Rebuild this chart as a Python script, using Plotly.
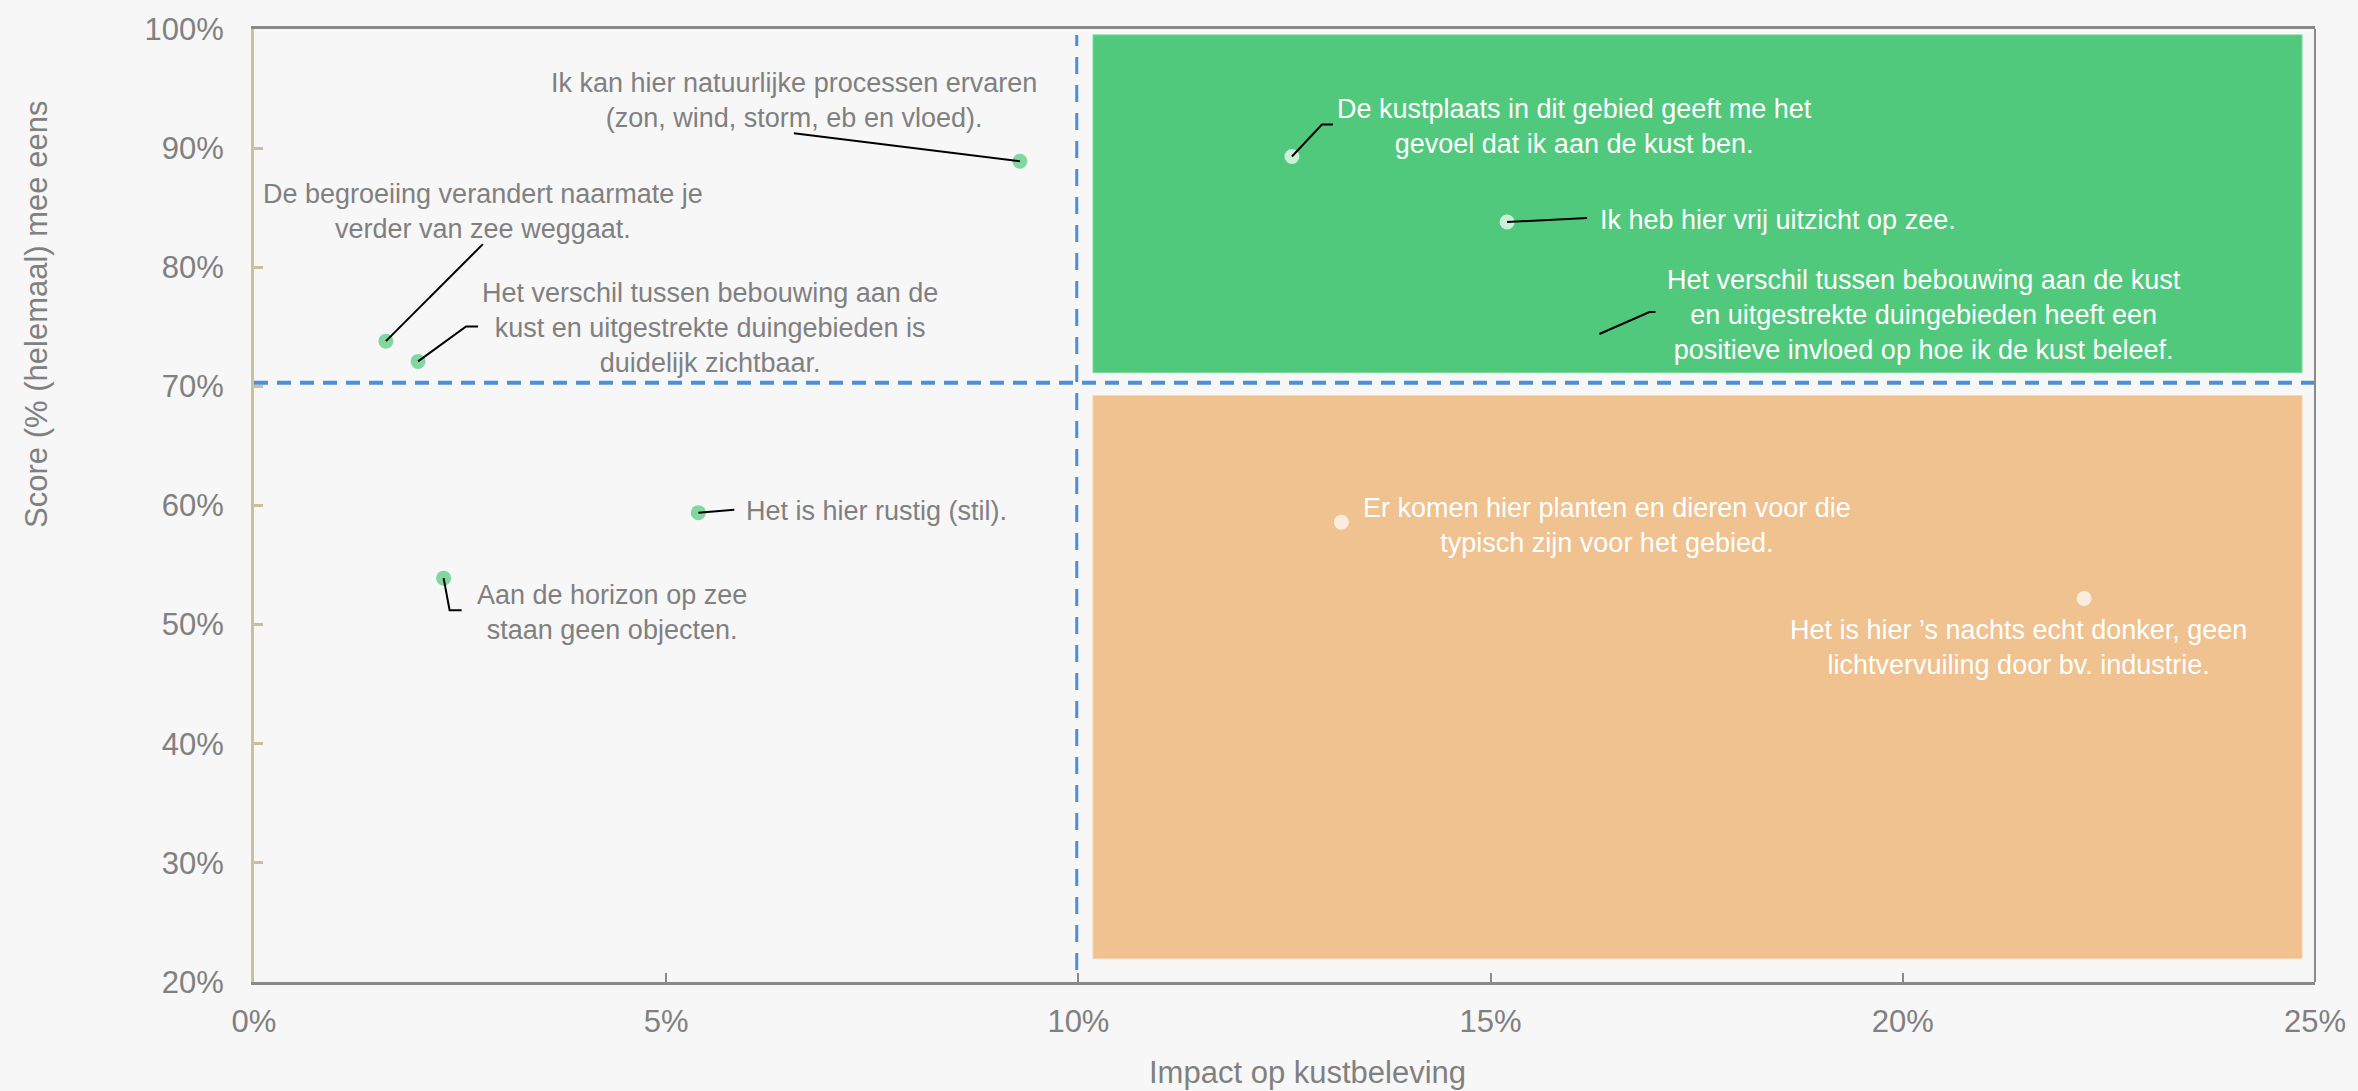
import plotly.graph_objects as go

# ---------------- data ----------------
statements = [
    "Ik kan hier natuurlijke processen ervaren<br>(zon, wind, storm, eb en vloed).",
    "De begroeiing verandert naarmate je<br>verder van zee weggaat.",
    "Het verschil tussen bebouwing aan de<br>kust en uitgestrekte duingebieden is<br>duidelijk zichtbaar.",
    "Het is hier rustig (stil).",
    "Aan de horizon op zee<br>staan geen objecten.",
    "De kustplaats in dit gebied geeft me het<br>gevoel dat ik aan de kust ben.",
    "Ik heb hier vrij uitzicht op zee.",
    "Het verschil tussen bebouwing aan de kust<br>en uitgestrekte duingebieden heeft een<br>positieve invloed op hoe ik de kust beleef.",
    "Er komen hier planten en dieren voor die<br>typisch zijn voor het gebied.",
    "Het is hier \u2019s nachts echt donker, geen<br>lichtvervuiling door bv. industrie.",
]
impact = [9.29, 1.60, 1.99, 5.39, 2.30, 12.59, 15.20, 16.32, 13.19, 22.20]
score = [88.9, 73.8, 72.1, 59.4, 53.9, 89.3, 83.8, 74.4, 58.6, 52.2]

x_ticks = [0, 5, 10, 15, 20, 25]
x_tick_labels = ["0%", "5%", "10%", "15%", "20%", "25%"]
y_ticks = [20, 30, 40, 50, 60, 70, 80, 90, 100]
y_tick_labels = ["20%", "30%", "40%", "50%", "60%", "70%", "80%", "90%", "100%"]
impact_threshold = 10.0
score_threshold = 70.3

# ---------------- styling ----------------
BG = "#f7f7f7"
GREY = "#808080"
GREEN = "#50c97c"
ORANGE = "#efc290"
BLUE = "#4a8fd8"
TAN = "#c9c09c"
FONT = "Liberation Sans, Arial, sans-serif"

# label layout: (text dx, text dy, xanchor, leader path in pixel offsets or None, marker shown)
label_layout = [
    (-226, 61, "center", [(0, 0), (-226, 28)], True),
    (97, 130, "center", [(0, 0), (97, 97)], True),
    (292, 33, "center", [(0, 0), (48, 35), (60, 35)], True),
    (46, 2, "left", [(0, 0), (36, 3)], True),
    (168, -34, "center", [(0, 0), (6, -32), (18, -32)], True),
    (283, 30, "center", [(0, 0), (30, 32), (41, 32)], True),
    (91, 2, "left", [(0, 0), (80, 4)], True),
    (325, 19, "center", [(0, 0), (50, 22), (56, 22)], False),
    (266, -3, "center", None, True),
    (-66, -49, "center", None, True),
]

fig = go.Figure()

shapes = []
# quadrant rectangles
shapes.append(dict(type="rect", xref="x", yref="y", x0=10.17, x1=24.85, y0=71.1, y1=99.56,
                   fillcolor=GREEN, line=dict(color="rgba(255,255,255,0.35)", width=2), layer="below"))
shapes.append(dict(type="rect", xref="x", yref="y", x0=10.17, x1=24.85, y0=21.9, y1=69.27,
                   fillcolor=ORANGE, line=dict(color="rgba(255,255,255,0.35)", width=2), layer="below"))
# threshold lines
shapes.append(dict(type="line", xref="x", yref="y", x0=0, x1=25.1, y0=score_threshold, y1=score_threshold,
                   line=dict(color=BLUE, width=4, dash="14px,9px"), layer="below"))
shapes.append(dict(type="line", xref="x", yref="y", x0=impact_threshold - 0.02, x1=impact_threshold - 0.02,
                   y0=21.0, y1=99.5, line=dict(color=BLUE, width=3, dash="17px,11px"), layer="below"))
# right border
shapes.append(dict(type="line", xref="x domain", yref="y domain", x0=1, x1=1, y0=0, y1=1,
                   line=dict(color="#8a8a8a", width=2), layer="above"))

annotations = []
colors = []
sizes = []
for i, (txt, xv, yv) in enumerate(zip(statements, impact, score)):
    dx, dy, xa, path, show = label_layout[i]
    inside = xv > impact_threshold
    colors.append("white" if inside else GREEN)
    sizes.append(15 if show else 0)
    annotations.append(dict(
        x=xv, y=yv, xref="x", yref="y", text=txt, showarrow=False,
        xshift=dx, yshift=dy, xanchor=xa, yanchor="middle", align="center",
        font=dict(family=FONT, size=27, color="white" if inside else GREY),
    ))
    if path:
        d = "M " + " L ".join(f"{px},{py}" for px, py in path)
        shapes.append(dict(type="path", xref="x", yref="y", xsizemode="pixel", ysizemode="pixel",
                           xanchor=xv, yanchor=yv, path=d,
                           line=dict(color="black", width=2), layer="above"))

fig.add_trace(go.Scatter(
    x=impact, y=score, mode="markers",
    marker=dict(color=colors, size=sizes, line=dict(width=0)),
    hovertext=statements, hoverinfo="text", showlegend=False,
))

# axis titles
annotations.append(dict(text="Impact op kustbeleving", xref="paper", yref="paper", x=0.511, y=0,
                        yshift=-90, showarrow=False, xanchor="center", yanchor="middle",
                        font=dict(family=FONT, size=31, color=GREY)))
annotations.append(dict(text="Score (% (helemaal) mee eens", xref="paper", yref="paper", x=0, y=0.70,
                        xshift=-217, showarrow=False, xanchor="center", yanchor="middle", textangle=-90,
                        font=dict(family=FONT, size=31, color=GREY)))

fig.update_layout(
    width=2358, height=1091, autosize=False,
    margin=dict(l=254, r=36, t=24, b=109),
    paper_bgcolor=BG, plot_bgcolor=BG,
    shapes=shapes, annotations=annotations,
    font=dict(family=FONT, color=GREY),
    xaxis=dict(range=[0, 25], tickmode="array", tickvals=x_ticks, ticktext=x_tick_labels,
               showgrid=False, zeroline=False,
               showline=True, linecolor="#898989", linewidth=3, mirror=True,
               ticks="inside", ticklen=9, tickwidth=2, tickcolor="#898989",
               ticklabelstandoff=10, tickfont=dict(size=31, color=GREY, family=FONT)),
    yaxis=dict(range=[19.99, 100.01], tickmode="array", tickvals=y_ticks, ticktext=y_tick_labels,
               showgrid=False, zeroline=False,
               showline=True, linecolor=TAN, linewidth=3,
               ticks="inside", ticklen=9, tickwidth=3, tickcolor=TAN,
               ticklabelstandoff=21, tickfont=dict(size=31, color=GREY, family=FONT)),
)

fig.write_html("out.html", config={"displayModeBar": False},
               post_script="document.body.style.margin='0';document.body.style.overflow='hidden';")
